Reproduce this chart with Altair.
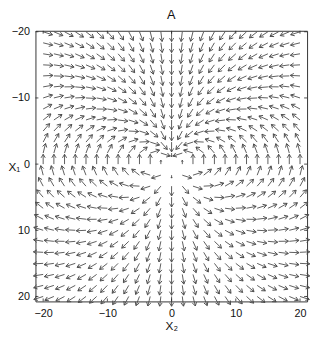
import math
import altair as alt
import pandas as pd

TITLE = "A"
X_TITLE = "X\u2082"
Y_TITLE = "X\u2081"
TICKS = [-20, -10, 0, 10, 20]

# grid of arrow tails (x2 across, x1 down)
X2_VALUES = [-20, -18.33, -16.67, -15, -13.33, -11.67, -10, -8.33, -6.67, -5, -3.33, -1.67, 0,
             1.67, 3.33, 5, 6.67, 8.33, 10, 11.67, 13.33, 15, 16.67, 18.33, 20]
X1_VALUES = [-20, -18.33, -16.67, -15, -13.33, -11.67, -10, -8.33, -6.67, -5, -3.33, -1.67, 0,
             1.67, 3.33, 5, 6.67, 8.33, 10, 11.67, 13.33, 15, 16.67, 18.33, 20]

# arrow direction, degrees clockwise on screen from +x2 (90 = downwards)
# one row per X1 value (top to bottom), one entry per X2 value (left to right)
ANGLE_DEG = [
    [18, 23, 28, 33, 38, 43, 49, 56, 62, 69, 76, 83, 90, 97, 104, 111, 118, 124, 131, 137, 142, 147, 152, 157, 162],
    [14, 18, 23, 28, 34, 40, 46, 53, 60, 67, 74, 82, 90, 98, 106, 113, 120, 127, 134, 140, 146, 152, 157, 162, 166],
    [9, 13, 18, 24, 30, 36, 42, 49, 57, 65, 73, 81, 90, 99, 107, 115, 123, 131, 138, 144, 150, 156, 162, 167, 171],
    [3, 8, 13, 18, 24, 31, 38, 45, 53, 62, 71, 80, 90, 100, 109, 118, 127, 135, 142, 149, 156, 162, 167, 172, 177],
    [-3, 2, 7, 12, 18, 25, 33, 41, 49, 59, 69, 79, 90, 101, 111, 121, 131, 139, 147, 155, 162, 168, 173, 178, 183],
    [-10, -6, -1, 5, 11, 18, 26, 35, 44, 55, 66, 78, 90, 102, 114, 125, 136, 145, 154, 162, 169, 175, 181, 186, 190],
    [-18, -14, -9, -3, 3, 10, 18, 28, 38, 49, 62, 76, 90, 104, 118, 131, 142, 152, 162, 170, 177, 183, 189, 194, 198],
    [-28, -23, -18, -13, -7, 1, 9, 18, 30, 42, 57, 73, 90, 107, 123, 138, 150, 162, 171, 179, 187, 193, 198, 203, 208],
    [-38, -34, -30, -24, -18, -11, -3, 7, 18, 33, 49, 69, 90, 111, 131, 147, 162, 173, 183, 191, 198, 204, 210, 214, 218],
    [-49, -46, -42, -38, -33, -26, -18, -9, 3, 18, 38, 62, 90, 118, 142, 162, 177, 189, 198, 206, 213, 218, 222, 226, 229],
    [-62, -60, -57, -53, -49, -44, -38, -30, -18, -3, 18, 49, 90, 131, 162, 183, 198, 210, 218, 224, 229, 233, 237, 240, 242],
    [-76, -74, -73, -71, -69, -66, -62, -57, -49, -38, -18, 18, 90, 162, 198, 218, 229, 237, 242, 246, 249, 251, 253, 254, 256],
    [270, 270, 270, 270, 270, 270, 270, 270, 270, 270, 270, 270, None, 270, 270, 270, 270, 270, 270, 270, 270, 270, 270, 270, 270],
    [256, 254, 253, 251, 249, 246, 242, 237, 229, 218, 198, 162, 90, 18, -18, -38, -49, -57, -62, -66, -69, -71, -73, -74, -76],
    [242, 240, 237, 233, 229, 224, 218, 210, 198, 183, 162, 131, 90, 49, 18, -3, -18, -30, -38, -44, -49, -53, -57, -60, -62],
    [229, 226, 222, 218, 213, 206, 198, 189, 177, 162, 142, 118, 90, 62, 38, 18, 3, -9, -18, -26, -33, -38, -42, -46, -49],
    [218, 214, 210, 204, 198, 191, 183, 173, 162, 147, 131, 111, 90, 69, 49, 33, 18, 7, -3, -11, -18, -24, -30, -34, -38],
    [208, 203, 198, 193, 187, 179, 171, 162, 150, 138, 123, 107, 90, 73, 57, 42, 30, 18, 9, 1, -7, -13, -18, -23, -28],
    [198, 194, 189, 183, 177, 170, 162, 152, 142, 131, 118, 104, 90, 76, 62, 49, 38, 28, 18, 10, 3, -3, -9, -14, -18],
    [190, 186, 181, 175, 169, 162, 154, 145, 136, 125, 114, 102, 90, 78, 66, 55, 44, 35, 26, 18, 11, 5, -1, -6, -10],
    [183, 178, 173, 168, 162, 155, 147, 139, 131, 121, 111, 101, 90, 79, 69, 59, 49, 41, 33, 25, 18, 12, 7, 2, -3],
    [177, 172, 167, 162, 156, 149, 142, 135, 127, 118, 109, 100, 90, 80, 71, 62, 53, 45, 38, 31, 24, 18, 13, 8, 3],
    [171, 167, 162, 156, 150, 144, 138, 131, 123, 115, 107, 99, 90, 81, 73, 65, 57, 49, 42, 36, 30, 24, 18, 13, 9],
    [166, 162, 157, 152, 146, 140, 134, 127, 120, 113, 106, 98, 90, 82, 74, 67, 60, 53, 46, 40, 34, 28, 23, 18, 14],
    [162, 157, 152, 147, 142, 137, 131, 124, 118, 111, 104, 97, 90, 83, 76, 69, 62, 56, 49, 43, 38, 33, 28, 23, 18],
]

# arrows near the singularity are drawn shorter (relative length)
SHORT_ARROWS = [(0, -1.67, 0.4), (-1.67, 0, 0.4), (1.67, 0, 0.4), (0, 1.67, 0.3)]

W, H = 277, 276
XDOM = [-21.2, 21.1]
YDOM = [-20.15, 20.75]
PX_X = W / (XDOM[1] - XDOM[0])
PX_Y = H / (YDOM[1] - YDOM[0])
ARROW_PX = 10
COLOR = "#4a4a4a"
FONT = "Liberation Sans"

mag = {(a, b): m for a, b, m in SHORT_ARROWS}
recs = []
for r, x1 in enumerate(X1_VALUES):
    for c, x2 in enumerate(X2_VALUES):
        a = ANGLE_DEG[r][c]
        if a is None:
            continue
        m = mag.get((x2, x1), 1.0)
        rad = math.radians(a)
        recs.append(dict(
            x2=x2, x1=x1,
            x2e=x2 + ARROW_PX * m * math.cos(rad) / PX_X,
            x1e=x1 + ARROW_PX * m * math.sin(rad) / PX_Y,
            ang=a % 360,
            hs=52 * m * m,
        ))
df = pd.DataFrame(recs)
tdf = pd.DataFrame({"t": TICKS})

xs = alt.Scale(domain=XDOM, nice=False, zero=False)
ys = alt.Scale(domain=YDOM, nice=False, zero=False, reverse=True)

xaxis = alt.Axis(values=TICKS, format="d", title=X_TITLE, ticks=False, domain=False, grid=False,
                 labelFont=FONT, labelFontSize=11, labelColor="#111", labelPadding=6,
                 titleFont=FONT, titleFontSize=12, titleFontWeight="normal", titleColor="#111",
                 titlePadding=3)
yaxis = alt.Axis(values=TICKS, format="d", title=Y_TITLE, ticks=False, domain=False, grid=False,
                 labelFont=FONT, labelFontSize=11, labelColor="#111", labelPadding=6,
                 titleFont=FONT, titleFontSize=12, titleFontWeight="normal", titleColor="#111",
                 titleAngle=0, titleAlign="left", titleBaseline="middle", titleX=-28, titleY=H / 2)

X_TIP = alt.X("x2:Q", scale=xs, axis=xaxis)
Y_TIP = alt.Y("x1:Q", scale=ys, axis=yaxis)

base = alt.Chart(df)
shafts = base.mark_rule(color=COLOR, strokeWidth=0.9).encode(
    x=X_TIP,
    y=Y_TIP,
    x2="x2e:Q",
    y2="x1e:Q",
)
heads = base.mark_point(shape="M-1,-0.6L0,0L-1,0.6", color=COLOR, strokeWidth=0.9, filled=False, opacity=1).encode(
    x=alt.X("x2e:Q", scale=xs, axis=xaxis),
    y=alt.Y("x1e:Q", scale=ys, axis=yaxis),
    angle=alt.Angle("ang:Q", scale=None),
    size=alt.Size("hs:Q", scale=None, legend=None),
)

tk = alt.Chart(tdf)
tick_col = "#222"
top_t = tk.mark_rule(color=tick_col, strokeWidth=0.8).encode(
    x=alt.X("t:Q", scale=xs, axis=xaxis), y=alt.value(0), y2=alt.value(3))
bot_t = tk.mark_rule(color=tick_col, strokeWidth=0.8).encode(
    x=alt.X("t:Q", scale=xs, axis=xaxis), y=alt.value(H), y2=alt.value(H - 3))
left_t = tk.mark_rule(color=tick_col, strokeWidth=0.8).encode(
    y=alt.Y("t:Q", scale=ys, axis=yaxis), x=alt.value(0), x2=alt.value(3))
right_t = tk.mark_rule(color=tick_col, strokeWidth=0.8).encode(
    y=alt.Y("t:Q", scale=ys, axis=yaxis), x=alt.value(W), x2=alt.value(W - 3))

chart = alt.layer(shafts, heads, top_t, bot_t, left_t, right_t).properties(
    width=W, height=H,
    title=alt.Title(TITLE, font=FONT, fontSize=13, fontWeight="normal", color="#111", offset=4, anchor="middle"),
    autosize="none",
    padding={"left": 28, "top": 20, "right": 4, "bottom": 30},
).configure_view(stroke="#333", strokeWidth=1)

chart.save("out.html", embed_options={"renderer": "svg", "actions": False})
